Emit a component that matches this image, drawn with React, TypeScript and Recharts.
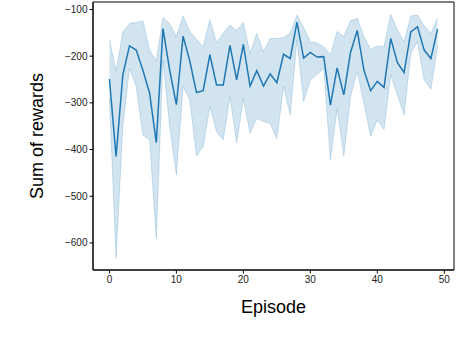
import { ComposedChart, Area, Line, XAxis, YAxis, ReferenceArea } from 'recharts';

const episodes = Array.from({ length: 50 }, (_, i) => i);

// mean reward per episode
const meanReward = [
    -249, -415, -240, -178, -187, -230, -279, -385, -141, -230,
    -304, -157, -210, -278, -274, -197, -262, -262, -177, -251,
    -175, -264, -231, -264, -238, -257, -196, -205, -127, -204,
    -192, -202, -201, -305, -225, -283, -192, -145, -230, -274,
    -254, -267, -162, -214, -235, -148, -137, -187, -205, -142,
];

// confidence band
const upperReward = [
    -165, -232, -149, -130, -128, -124, -187, -210, -117, -130,
    -158, -114, -147, -164, -180, -122, -171, -151, -133, -145,
    -128, -194, -151, -190, -162, -162, -160, -151, -112, -138,
    -169, -172, -180, -197, -147, -158, -124, -119, -158, -185,
    -178, -180, -110, -144, -169, -114, -112, -135, -151, -119,
];
const lowerReward = [
    -290, -632, -351, -226, -265, -369, -379, -590, -208, -350,
    -454, -265, -294, -414, -394, -308, -362, -379, -287, -386,
    -291, -365, -333, -340, -344, -377, -265, -326, -165, -297,
    -251, -240, -226, -422, -312, -414, -287, -233, -301, -372,
    -337, -357, -240, -283, -326, -194, -169, -251, -271, -180,
];

const xTicks = [0, 10, 20, 30, 40, 50];
const yTicks = [-600, -500, -400, -300, -200, -100];

const BLUE = '#1f77b4';
const FONT = '"Liberation Sans", Arial, sans-serif';

const data = episodes.map((ep, i) => ({
    episode: ep,
    mean: meanReward[i],
    band: [lowerReward[i], upperReward[i]],
}));

const tickStyle = { fontSize: 10, fill: '#222', fontFamily: FONT };

export default function App() {
    return (
        <div style={{ position: 'absolute', left: 0, top: 0, width: 464, height: 350, background: '#fff' }}>
            <ComposedChart width={464} height={350} data={data} margin={{ top: 2, right: 10, left: 0, bottom: 0 }}>
                <XAxis
                    dataKey="episode"
                    type="number"
                    domain={[-2.45, 51.45]}
                    ticks={xTicks}
                    allowDataOverflow
                    height={80}
                    tickSize={3.5}
                    tick={tickStyle}
                    stroke="#000"
                    tickLine={{ stroke: '#000' }}
                    label={{
                        content: (props: any) => {
                            const vb = props.viewBox;
                            return (
                                <text x={vb.x + vb.width / 2} y={vb.y + 43} textAnchor="middle"
                                    style={{ fontSize: 18, fontFamily: FONT, fill: '#000' }}>
                                    Episode
                                </text>
                            );
                        },
                    }}
                />
                <YAxis
                    type="number"
                    domain={[-658, -84]}
                    ticks={yTicks}
                    allowDataOverflow
                    width={93}
                    tickSize={3.5}
                    tick={tickStyle}
                    stroke="#000"
                    tickLine={{ stroke: '#000' }}
                    tickFormatter={(v: number) => String(v).replace('-', '\u2212')}
                    label={{
                        content: (props: any) => {
                            const vb = props.viewBox;
                            const cy = vb.y + vb.height / 2;
                            return (
                                <text x={43} y={cy} textAnchor="middle" transform={`rotate(-90, 43, ${cy})`}
                                    style={{ fontSize: 18, fontFamily: FONT, fill: '#000' }}>
                                    Sum of rewards
                                </text>
                            );
                        },
                    }}
                />
                <ReferenceArea x1={-2.45} x2={51.45} y1={-658} y2={-84} fill="none" stroke="#000" strokeWidth={1} />
                <Area
                    type="linear"
                    dataKey="band"
                    fill={BLUE}
                    fillOpacity={0.2}
                    stroke={BLUE}
                    strokeOpacity={0.2}
                    strokeWidth={1}
                    isAnimationActive={false}
                    activeDot={false}
                />
                <Line
                    type="linear"
                    dataKey="mean"
                    stroke={BLUE}
                    strokeWidth={1.5}
                    dot={false}
                    isAnimationActive={false}
                />
            </ComposedChart>
        </div>
    );
}
